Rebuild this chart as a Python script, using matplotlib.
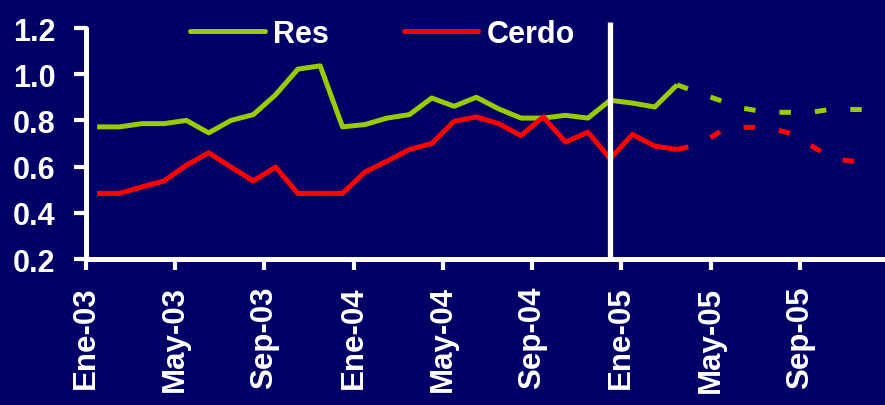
import numpy as np
import matplotlib
matplotlib.use("Agg")
import matplotlib.pyplot as plt
from matplotlib.lines import Line2D

plt.rcParams['font.family'] = ['Liberation Sans', 'DejaVu Sans']
plt.rcParams['font.weight'] = 'bold'
plt.rcParams['lines.scale_dashes'] = False

# ---- data (monthly, Ene-03 .. Dic-05) ----
tick_labels = ["Ene-03", "May-03", "Sep-03", "Ene-04", "May-04", "Sep-04",
               "Ene-05", "May-05", "Sep-05"]
res = [0.772, 0.772, 0.786, 0.786, 0.800, 0.746, 0.800, 0.825, 0.911, 1.022,
       1.036, 0.772, 0.782, 0.810, 0.825, 0.897, 0.861, 0.900, 0.850, 0.810,
       0.810, 0.822, 0.810, 0.887, 0.875, 0.858, 0.954,
       0.918, 0.884, 0.852, 0.835, 0.835, 0.835, 0.850, 0.847, 0.847]
cerdo = [0.484, 0.484, 0.512, 0.538, 0.606, 0.660, 0.598, 0.538, 0.598, 0.484,
         0.484, 0.484, 0.576, 0.624, 0.674, 0.700, 0.796, 0.815, 0.786, 0.734,
         0.815, 0.706, 0.749, 0.634, 0.739, 0.689, 0.674,
         0.697, 0.755, 0.770, 0.770, 0.746, 0.691, 0.634, 0.622, 0.622]
n_obs = 27          # observed months (Ene-03 .. Mar-05), rest is projection
cut_month = 23      # Dic-04 marker line

BG = '#000066'
GREEN = '#99CC00'
RED = '#FF0000'
WHITE = '#FFFFFF'

x = np.arange(len(res)) + 0.5

fig = plt.figure(figsize=(8.85, 4.06), dpi=100, facecolor=BG)
ax = fig.add_axes([86 / 885, 1 - 260 / 406, 803 / 885, 231 / 406])
ax.set_facecolor(BG)

lw = 3.6
ax.plot(x[:n_obs], res[:n_obs], color=GREEN, lw=lw, solid_joinstyle='round',
        solid_capstyle='butt', zorder=3)
ax.plot(x[:n_obs], cerdo[:n_obs], color=RED, lw=lw, solid_joinstyle='round',
        solid_capstyle='butt', zorder=3)
ax.plot(x[n_obs - 1:], res[n_obs - 1:], color=GREEN, lw=lw, dashes=(8.3, 17.3),
        dash_capstyle='butt', zorder=3)
ax.plot(x[n_obs - 1:], cerdo[n_obs - 1:], color=RED, lw=lw, dashes=(8.3, 17.3),
        dash_capstyle='butt', zorder=3)

ax.plot([x[cut_month], x[cut_month]], [0.2, 1.225], color=WHITE, lw=3.8,
        clip_on=False, zorder=5, solid_capstyle='butt')

ax.set_xlim(0, 36)
ax.set_ylim(0.2, 1.2)
ax.set_yticks(np.arange(0.2, 1.21, 0.2))
ax.set_yticklabels([f"{v:.1f}" for v in np.arange(0.2, 1.21, 0.2)])
ax.set_xticks(np.arange(0, 4 * len(tick_labels), 4))
ax.set_xticklabels(tick_labels, rotation=90)

for s in ['top', 'right']:
    ax.spines[s].set_visible(False)
for s in ['left', 'bottom']:
    ax.spines[s].set_color(WHITE)
    ax.spines[s].set_linewidth(3.6)
    ax.spines[s].set_capstyle('round')

ax.tick_params(axis='y', colors=WHITE, labelsize=22, width=3, length=9,
               direction='out', pad=13)
ax.tick_params(axis='x', colors=WHITE, labelsize=22.5, width=3, length=8,
               direction='out', pad=11)
for lab in ax.get_xticklabels() + ax.get_yticklabels():
    lab.set_fontweight('bold')

handles = [Line2D([], [], color=GREEN, lw=3.6, solid_capstyle='round'),
           Line2D([], [], color=RED, lw=3.6, solid_capstyle='round')]
leg = ax.legend(handles, ['Res', 'Cerdo'], loc='center left',
                bbox_to_anchor=(190 / 885, 1 - 35 / 406),
                bbox_transform=fig.transFigure, ncol=2, frameon=False,
                fontsize=22, handlelength=2.45, handletextpad=0.26,
                columnspacing=2.45, borderpad=0, borderaxespad=0)
for t in leg.get_texts():
    t.set_color(WHITE)
    t.set_fontweight('bold')

fig.savefig('out.png', dpi=100, facecolor=BG)
